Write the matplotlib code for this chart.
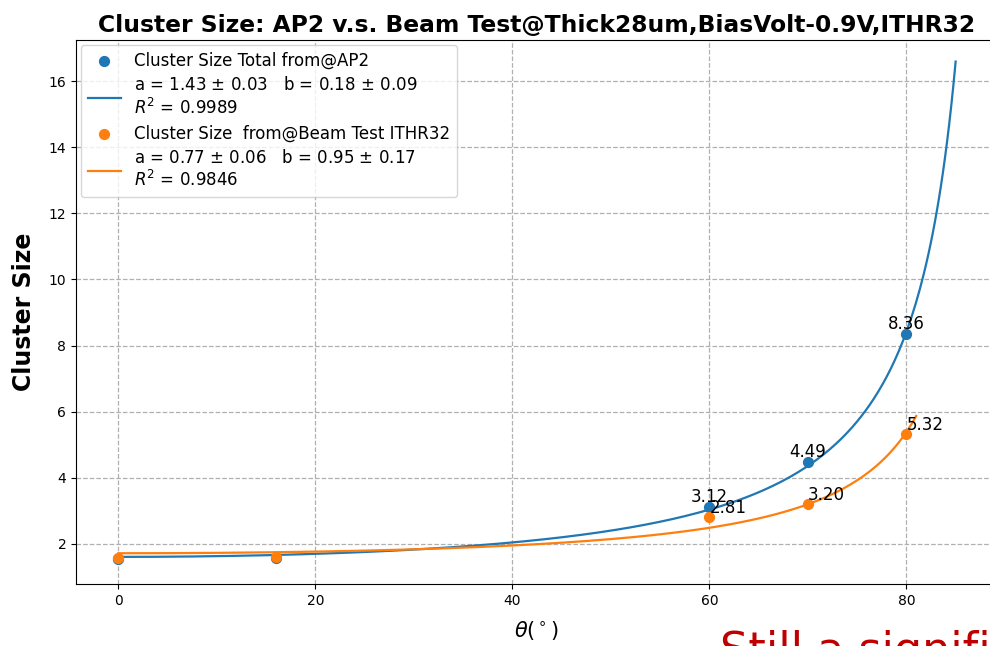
import numpy as np
import matplotlib.pyplot as plt

# measured cluster size vs incidence angle
theta_ap2 = [0, 16, 60, 70, 80]
cs_ap2 = [1.55, 1.57, 3.12, 4.49, 8.36]
theta_bt = [0, 16, 60, 70, 80]
cs_bt = [1.58, 1.60, 2.81, 3.20, 5.32]

# fit parameters: CS = a / cos(theta) + b
a_ap2, da_ap2, b_ap2, db_ap2, r2_ap2 = 1.43, 0.03, 0.18, 0.09, 0.9989
a_bt, da_bt, b_bt, db_bt, r2_bt = 0.77, 0.06, 0.95, 0.17, 0.9846
fit_max_ap2 = 85
fit_max_bt = 81


def model(t, a, b):
    return a / np.cos(np.radians(t)) + b


fig = plt.figure(figsize=(9.9, 6.46), dpi=100)
ax = fig.add_axes([76 / 990, 1 - 584 / 646, (997 - 76) / 990, (584 - 40) / 646])

ax.scatter(theta_ap2, cs_ap2, color="C0", s=50, zorder=3,
           label="Cluster Size Total from@AP2")
t1 = np.linspace(0, fit_max_ap2, 400)
ax.plot(t1, model(t1, a_ap2, b_ap2), color="C0", lw=1.6,
        label="a = {:.2f} $\\pm$ {:.2f}   b = {:.2f} $\\pm$ {:.2f}\n$R^2$ = {:.4f}".format(
            a_ap2, da_ap2, b_ap2, db_ap2, r2_ap2))
ax.scatter(theta_bt, cs_bt, color="C1", s=50, zorder=3,
           label="Cluster Size  from@Beam Test ITHR32")
t2 = np.linspace(0, fit_max_bt, 400)
ax.plot(t2, model(t2, a_bt, b_bt), color="C1", lw=1.6,
        label="a = {:.2f} $\\pm$ {:.2f}   b = {:.2f} $\\pm$ {:.2f}\n$R^2$ = {:.4f}".format(
            a_bt, da_bt, b_bt, db_bt, r2_bt))

for t, c in zip(theta_ap2[2:], cs_ap2[2:]):
    ax.text(t, c + 0.02, "{:.2f}".format(c), ha="center", va="bottom", fontsize=12)
for t, c in zip(theta_bt[2:], cs_bt[2:]):
    ax.text(t, c + 0.02, "{:.2f}".format(c), ha="left", va="bottom", fontsize=12)

ax.set_xlim(-4.3, 89.2)
ax.set_ylim(0.79, 17.24)
ax.grid(True, ls="--", color="#b0b0b0", lw=0.9)
ax.set_xlabel("$\\theta(^\\circ)$", fontsize=15, labelpad=8)
ax.set_ylabel("Cluster Size", fontsize=17, fontweight="bold", labelpad=9)
ax.set_title("Cluster Size: AP2 v.s. Beam Test@Thick28um,BiasVolt-0.9V,ITHR32",
             fontsize=16.8, fontweight="bold")
ax.legend(loc="upper left", fontsize=12, labelspacing=0.4, borderaxespad=0.3)

fig.text(0.727, -0.028, "Still a significant", color="#c00000", fontsize=32)

plt.savefig("out.png", dpi=100)
